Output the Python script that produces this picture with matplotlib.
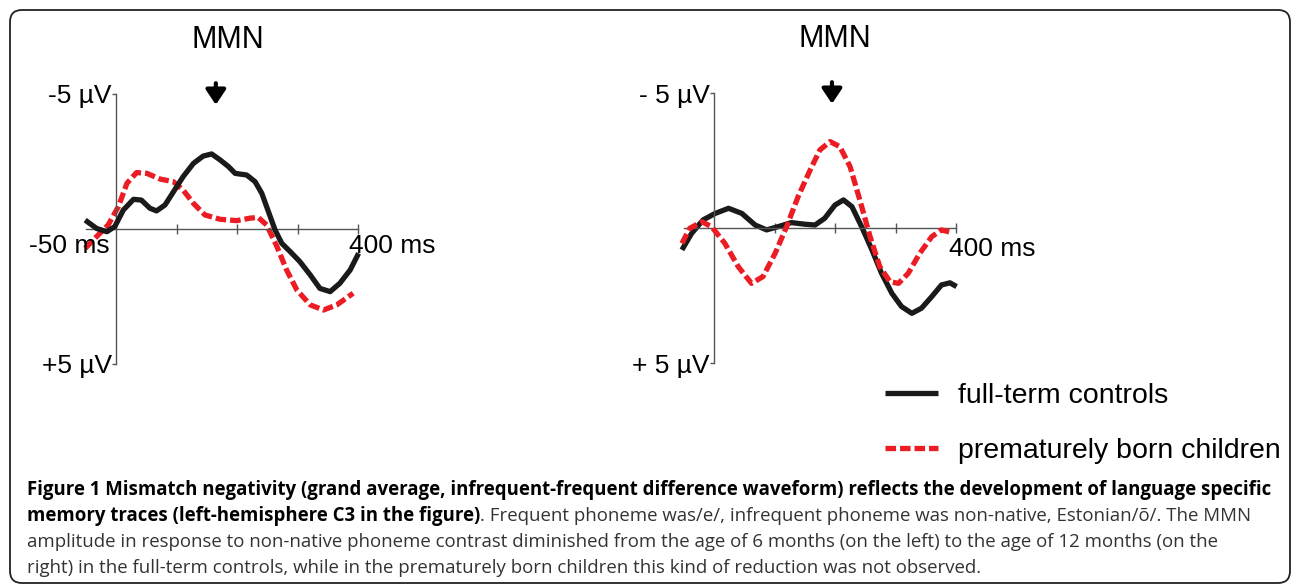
import matplotlib.pyplot as plt
from matplotlib.patches import FancyBboxPatch

# 6 months (left panel): time in ms, amplitude in µV (negative plotted upwards)
left_t_full = [-51, -32, -15, -2, 12, 29, 42, 56, 67, 81, 95, 111, 128, 144, 158, 172,
               186, 197, 216, 230, 241, 252, 263, 274, 288, 304, 321, 337, 354, 370,
               387, 401]
left_v_full = [-0.33, -0.02, 0.10, -0.09, -0.70, -1.10, -1.07, -0.77, -0.67, -0.89,
               -1.38, -1.94, -2.43, -2.70, -2.78, -2.56, -2.31, -2.06, -2.0, -1.75,
               -1.32, -0.64, 0.04, 0.53, 0.84, 1.21, 1.70, 2.20, 2.32, 2.01, 1.52, 0.90]
left_t_pre = [-51, -32, -13, 4, 18, 34, 51, 73, 95, 111, 128, 147, 172, 200, 221, 235,
              249, 266, 282, 299, 321, 343, 365, 392]
left_v_pre = [0.72, 0.28, -0.15, -0.83, -1.69, -2.09, -2.06, -1.85, -1.75, -1.44, -0.95,
              -0.52, -0.36, -0.31, -0.40, -0.43, -0.15, 0.65, 1.52, 2.26, 2.81, 3.0,
              2.81, 2.38]

# 12 months (right panel)
right_t_full = [-53, -37, -18, 2, 24, 46, 68, 87, 106, 128, 150, 167, 183, 200, 214,
                228, 244, 261, 277, 294, 310, 327, 343, 360, 376, 390, 401]
right_v_full = [0.81, 0.20, -0.30, -0.54, -0.73, -0.54, -0.11, 0.07, -0.05, -0.20,
                -0.14, -0.11, -0.36, -0.85, -1.04, -0.79, -0.05, 0.81, 1.68, 2.42,
                2.91, 3.16, 2.97, 2.54, 2.11, 2.03, 2.17]
right_t_pre = [-53, -40, -20, -4, 18, 40, 62, 81, 101, 120, 139, 159, 175, 192, 208,
               225, 241, 258, 274, 291, 305, 321, 340, 360, 376, 393]
right_v_pre = [0.57, 0.01, -0.23, -0.05, 0.57, 1.43, 2.05, 1.80, 0.94, -0.05, -1.16,
               -2.15, -2.89, -3.20, -3.01, -2.27, -1.04, 0.32, 1.43, 1.99, 2.05, 1.68,
               0.94, 0.32, 0.07, 0.17]

series_labels = ["full-term controls", "prematurely born children"]

caption_bold_1 = ("Figure 1 Mismatch negativity (grand average, infrequent-frequent "
                  "difference waveform) reflects the development of language specific")
caption_bold_2 = "memory traces (left-hemisphere C3 in the figure)"
caption_rest_2 = (". Frequent phoneme was/e/, infrequent phoneme was non-native, "
                  "Estonian/õ/. The MMN")
caption_3 = ("amplitude in response to non-native phoneme contrast diminished from the "
             "age of 6 months (on the left) to the age of 12 months (on the")
caption_4 = ("right) in the full-term controls, while in the prematurely born children "
             "this kind of reduction was not observed.")

W, H = 1293, 586
SX, SY = 0.605, 27.0          # px per ms, px per µV
XLIM = (-60, 415)
YLIM = (5.6, -5.6)
BLACK = "#1a1a1a"
RED = "#ec1c24"
AXIS = "#555555"
SANS = ["Liberation Sans", "DejaVu Sans"]

plt.rcParams["font.family"] = SANS

fig = plt.figure(figsize=(W / 100, H / 100), dpi=100)


def panel(x0, y0):
    left = (x0 + XLIM[0] * SX) / W
    width = (XLIM[1] - XLIM[0]) * SX / W
    height = (YLIM[0] - YLIM[1]) * SY / H
    bottom = 1 - (y0 + YLIM[0] * SY) / H
    ax = fig.add_axes([left, bottom, width, height])
    ax.set_xlim(*XLIM)
    ax.set_ylim(*YLIM)
    ax.patch.set_visible(False)
    for side in ("top", "right"):
        ax.spines[side].set_visible(False)
    ax.spines["left"].set_position(("data", 0))
    ax.spines["bottom"].set_position(("data", 0))
    ax.spines["left"].set_bounds(-5, 5)
    ax.spines["bottom"].set_bounds(-50, 400)
    for side in ("left", "bottom"):
        ax.spines[side].set_color(AXIS)
        ax.spines[side].set_linewidth(1.0)
    ax.set_xticks([100, 200, 300, 400], [])
    ax.tick_params(axis="x", direction="inout", length=6.5, width=1.0, color=AXIS)
    ax.tick_params(axis="y", direction="out", length=3, width=1.0, color=AXIS,
                   pad=0, labelsize=19)
    return ax


ax1 = panel(116, 229)
ax2 = panel(714, 228)

ax1.set_yticks([-5, 5], ["-5 µV", "+5 µV"])
ax2.set_yticks([-5, 5], ["- 5 µV", "+ 5 µV"])

line_kw = dict(lw=3.8, solid_capstyle="butt", solid_joinstyle="round", clip_on=False)
dash_kw = dict(lw=3.8, dashes=(2.0, 0.75), dash_capstyle="butt",
               dash_joinstyle="round", clip_on=False)

ax1.plot(left_t_full, left_v_full, color=BLACK, zorder=3, **line_kw)
ax1.plot(left_t_pre, left_v_pre, color=RED, zorder=2, **dash_kw)
h_full, = ax2.plot(right_t_full, right_v_full, color=BLACK, zorder=2,
                   label=series_labels[0], **line_kw)
h_pre, = ax2.plot(right_t_pre, right_v_pre, color=RED, zorder=3,
                  label=series_labels[1], **dash_kw)

ax1.text(-10, 0.63, "-50 ms", fontsize=19, ha="right", va="center")
ax1.text(385, 0.63, "400 ms", fontsize=19, ha="left", va="center")
ax2.text(388, 0.78, "400 ms", fontsize=19, ha="left", va="center")

for ax, x_mmn, x_arrow in ((ax1, 185, 165), (ax2, 200, 195)):
    ax.text(x_mmn, -7.0, "MMN", fontsize=22, ha="center", va="center")
    ax.annotate("", xy=(x_arrow, -4.6), xytext=(x_arrow, -5.4),
                arrowprops=dict(arrowstyle="-|>,head_length=0.45,head_width=0.3",
                                color="black", lw=3, shrinkA=0, shrinkB=0,
                                mutation_scale=20),
                annotation_clip=False)

fig.legend([h_full, h_pre], series_labels, loc="center left",
           bbox_to_anchor=(885 / W, 1 - 423.5 / H), frameon=False,
           fontsize=20.5, handlelength=1.86, handletextpad=0.7,
           labelspacing=1.05, borderpad=0, borderaxespad=0)

# rounded frame around the whole figure
frame = FancyBboxPatch((10 / 100, 3 / 100), 1280 / 100, 573 / 100,
                       boxstyle="round,pad=0,rounding_size=0.12",
                       transform=fig.dpi_scale_trans, fill=False,
                       edgecolor="#222222", lw=1.3)
fig.add_artist(frame)

# caption
CAP = ["Open Sans", "DejaVu Sans"]
cap_size = 13.4
x_cap = 27 / W
t1 = fig.text(x_cap, 1 - 495 / H, caption_bold_1, fontsize=cap_size,
              fontweight="bold", family=CAP, va="baseline")
t2 = fig.text(x_cap, 1 - 521 / H, caption_bold_2, fontsize=cap_size,
              fontweight="bold", family=CAP, va="baseline")
fig.text(x_cap, 1 - 547 / H, caption_3, fontsize=cap_size, family=CAP,
         va="baseline", color="#333333")
fig.text(x_cap, 1 - 573 / H, caption_4, fontsize=cap_size, family=CAP,
         va="baseline", color="#333333")

fig.canvas.draw()
r = fig.canvas.get_renderer()
x_end = t2.get_window_extent(r).x1 / W
fig.text(x_end, 1 - 521 / H, caption_rest_2, fontsize=cap_size, family=CAP,
         va="baseline", color="#333333")

fig.savefig("out.png", dpi=100)
plt.close(fig)
